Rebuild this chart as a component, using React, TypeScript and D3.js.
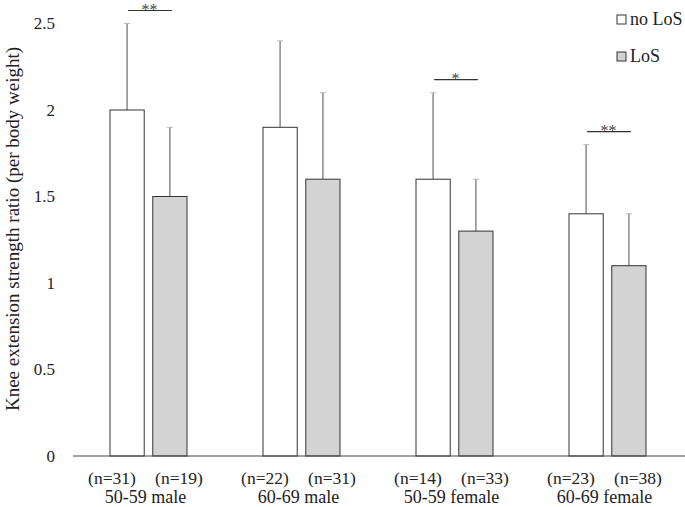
import React from 'react';
import * as d3 from 'd3';

const groups = ['50-59 male', '60-69 male', '50-59 female', '60-69 female'];
const series = ['no LoS', 'LoS'];
const means = [
  [2.0, 1.5],
  [1.9, 1.6],
  [1.6, 1.3],
  [1.4, 1.1],
];
const sds = [
  [0.5, 0.4],
  [0.5, 0.5],
  [0.5, 0.3],
  [0.4, 0.3],
];
const counts = [
  [31, 19],
  [22, 31],
  [14, 33],
  [23, 38],
];
const sig = ['**', '', '*', '**'];
const yTicks = [0, 0.5, 1, 1.5, 2, 2.5];

const W = 685;
const H = 507;
const fills = ['#ffffff', '#d3d3d3'];
const font = "'Liberation Serif', 'Times New Roman', serif";

const App = () => {
  const x = d3.scaleBand<string>().domain(groups).range([73, 685]);
  const inner = d3.scaleBand<string>().domain(series).range([37, 114]).paddingInner(0.2);
  const labelPos = d3.scalePoint<string>().domain(series).range([-33.5, 33.5]);
  const y = d3.scaleLinear().domain([0, 2.5]).range([456, 23.5]);

  return (
    <svg width={W} height={H} style={{ position: 'absolute', left: 0, top: 0, fontFamily: font }}>
      <rect width={W} height={H} fill="#fff" />
      {yTicks.map(t => (
        <text key={t} x={55} y={y(t)} dy="0.34em" textAnchor="end" fontSize={17} fill="#222">
          {t}
        </text>
      ))}
      <text
        transform={`translate(19,${229}) rotate(-90)`}
        textAnchor="middle"
        fontSize={19}
        fill="#222"
      >
        Knee extension strength ratio (per body weight)
      </text>
      {groups.map((g, gi) => {
        const gx = x(g)!;
        const pairMid = gx + (inner(series[0])! + inner(series[1])! + inner.bandwidth()) / 2;
        const labelMid = pairMid - 3;
        return (
          <g key={g}>
            {series.map((s, si) => {
              const bx = gx + inner(s)!;
              const bw = inner.bandwidth();
              const cx = bx + bw / 2;
              const top = means[gi][si] + sds[gi][si];
              return (
                <g key={s}>
                  <line x1={cx} x2={cx} y1={y(top)} y2={y(means[gi][si])} stroke="#8a8a8a" strokeWidth={1.5} />
                  <line x1={cx - 3} x2={cx + 3} y1={y(top)} y2={y(top)} stroke="#bbb" strokeWidth={1} />
                  <rect
                    x={bx}
                    y={y(means[gi][si])}
                    width={bw}
                    height={y(0) - y(means[gi][si])}
                    fill={fills[si]}
                    stroke="#333"
                    strokeWidth={1}
                  />
                  <text x={labelMid + labelPos(s)!} y={484} textAnchor="middle" fontSize={17.5} fill="#222">
                    (n={counts[gi][si]})
                  </text>
                </g>
              );
            })}
            <text x={labelMid} y={503} textAnchor="middle" fontSize={18} fill="#222">
              {g}
            </text>
            {sig[gi] && (() => {
              const c0 = gx + inner(series[0])! + inner.bandwidth() / 2;
              const c1 = gx + inner(series[1])! + inner.bandwidth() / 2;
              const ly = y(Math.max(means[gi][0] + sds[gi][0], means[gi][1] + sds[gi][1])) - 13;
              return (
                <g>
                  <line x1={c0 + 1} x2={c1 + 2} y1={ly} y2={ly} stroke="#333" strokeWidth={1.2} />
                  <text x={(c0 + c1) / 2 + 1} y={ly + 4} textAnchor="middle" fontSize={16} fill="#444">
                    {sig[gi]}
                  </text>
                </g>
              );
            })()}
          </g>
        );
      })}
      <line x1={73} x2={685} y1={y(0)} y2={y(0)} stroke="#444" strokeWidth={1} />
      {series.map((s, i) => (
        <g key={s} transform={`translate(617,${15 + i * 37})`}>
          <rect x={0} y={0} width={9} height={9} fill={fills[i]} stroke="#333" strokeWidth={1} />
          <text x={13} y={10} fontSize={18} fill="#222">{s}</text>
        </g>
      ))}
    </svg>
  );
};

export default App;
